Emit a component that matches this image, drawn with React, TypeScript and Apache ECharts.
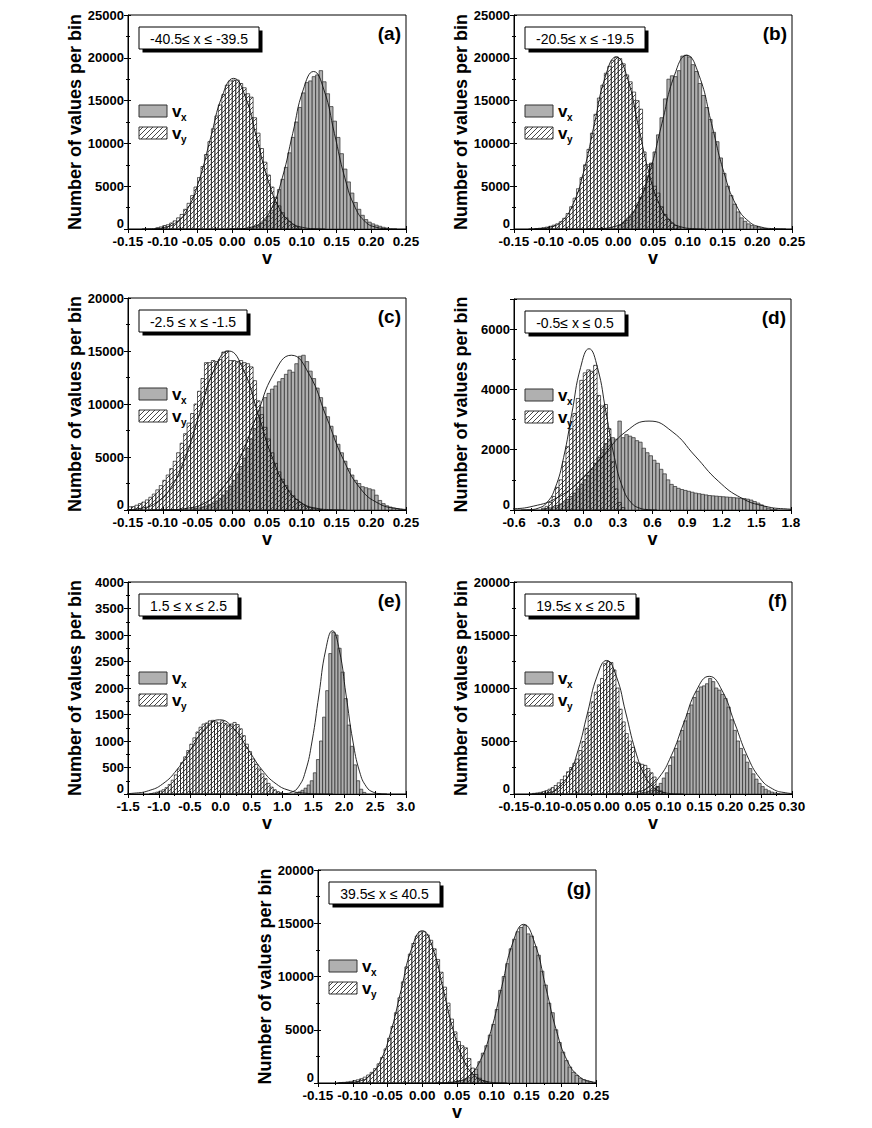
import React, { useEffect, useRef } from "react";
import * as echarts from "echarts";

/* ================= DATA ================= */

const panelLetters = ["(a)", "(b)", "(c)", "(d)", "(e)", "(f)", "(g)"];
const rangeLabels = [
  "-40.5≤ x ≤ -39.5",
  "-20.5≤ x ≤ -19.5",
  "-2.5 ≤ x ≤ -1.5",
  "-0.5≤ x ≤ 0.5",
  "1.5 ≤ x ≤ 2.5",
  "19.5≤ x ≤ 20.5",
  "39.5≤ x ≤ 40.5",
];
const yAxisTitle = "Number of values per bin";
const xAxisTitle = "v";

// ---- (a) ----
const aBin = 0.005;
const aVyStart = -0.11;
const aVy = [150, 250, 400, 500, 700, 950, 1300, 1700, 2300, 3000, 3900, 4900, 6000, 7300, 8700, 10200, 11700, 13200, 14500, 15700, 16800, 17300, 17400, 17400, 17000, 16500, 15800, 15400, 13000, 11200, 9400, 7800, 6300, 4900, 3700, 2700, 1900, 1300, 850, 500, 280, 120];
const aVxStart = 0.03;
const aVx = [250, 400, 650, 1000, 1500, 2200, 3100, 4600, 5800, 7200, 8900, 10700, 12500, 14200, 15900, 17100, 17300, 17800, 18000, 18500, 17200, 15800, 14300, 12600, 10700, 8800, 7000, 5500, 4200, 3100, 2300, 1600, 1100, 800, 600, 450, 320, 200, 120];
const aVyFit = [[-0.13, 6], [-0.1135, 39], [-0.097, 195], [-0.0805, 773], [-0.064, 2381], [-0.0475, 5715], [-0.031, 10674], [-0.0145, 15532], [0.002, 17600], [0.0185, 15532], [0.035, 10674], [0.0515, 5715], [0.068, 2381], [0.0845, 773], [0.101, 195], [0.1175, 39], [0.134, 6]];
const aVxFit = [[-0.003, 6], [0.012, 40], [0.027, 204], [0.042, 808], [0.057, 2490], [0.072, 5974], [0.087, 11160], [0.102, 16238], [0.117, 18400], [0.132, 16238], [0.147, 11160], [0.162, 5974], [0.177, 2490], [0.192, 808], [0.207, 204], [0.222, 40], [0.237, 6]];

// ---- (b) ----
const bBin = 0.005;
const bVyStart = -0.12;
const bVy = [60, 90, 150, 220, 320, 450, 600, 850, 1250, 1800, 2600, 3600, 4700, 6000, 7500, 9300, 11200, 13400, 15300, 16800, 18200, 19000, 19700, 20100, 19900, 19300, 18000, 17200, 16000, 15000, 14000, 9000, 7500, 7700, 5000, 4200, 2600, 1700, 1100, 700, 400, 200];
const bVxStart = 0.0;
const bVx = [450, 700, 1000, 1400, 2000, 2800, 3700, 4800, 6200, 7600, 9000, 11000, 13000, 15200, 17500, 17900, 17800, 18500, 20200, 20300, 20100, 19200, 18400, 17000, 15600, 14200, 12800, 11300, 10200, 8300, 6500, 5000, 3900, 2900, 2000, 1300, 900, 600, 400, 250, 150, 100, 60];
const bVyFit = [[-0.129, 7], [-0.1133, 44], [-0.0975, 223], [-0.0818, 882], [-0.066, 2720], [-0.0503, 6526], [-0.0345, 12191], [-0.0188, 17738], [-0.003, 20100], [0.0128, 17738], [0.0285, 12191], [0.0443, 6526], [0.06, 2720], [0.0758, 882], [0.0915, 223], [0.1073, 44], [0.123, 7]];
const bVxFit = [[-0.0443, 7], [-0.0265, 45], [-0.0086, 225], [0.0093, 891], [0.0271, 2747], [0.045, 6591], [0.0628, 12312], [0.0807, 17915], [0.0985, 20300], [0.1164, 17915], [0.1342, 12312], [0.1521, 6591], [0.1699, 2747], [0.1878, 891], [0.2056, 225], [0.2235, 45], [0.2413, 7]];

// ---- (c) ----
const cBin = 0.005;
const cVyStart = -0.15;
const cVy = [300, 320, 450, 600, 750, 950, 1200, 1500, 1900, 2300, 2800, 3300, 3900, 4600, 5400, 6300, 7200, 8200, 9100, 10000, 11200, 12400, 13900, 13900, 14100, 14000, 14200, 14900, 15000, 14100, 14100, 14000, 14100, 13900, 13800, 13500, 12200, 10300, 9000, 7800, 6700, 5400, 4400, 3600, 2900, 2300, 1800, 1350, 1000, 700, 500, 350, 230, 150, 90, 50];
const cVxStart = -0.06;
const cVx = [100, 150, 200, 280, 380, 500, 650, 850, 1100, 1400, 1800, 2250, 2800, 3400, 4100, 4900, 5800, 6700, 7700, 8700, 9700, 10600, 11000, 11400, 11700, 12100, 12400, 12800, 13200, 13000, 13800, 14500, 14600, 14000, 13100, 12400, 11500, 10600, 9700, 8800, 7900, 7000, 6200, 5400, 4600, 3900, 3300, 2800, 2500, 2200, 2100, 2000, 1900, 1400, 900, 600, 400, 280, 180, 120, 70];
const cVyFit = [[-0.173, 5], [-0.152, 33], [-0.131, 167], [-0.11, 659], [-0.089, 2030], [-0.068, 4871], [-0.047, 9098], [-0.026, 13238], [-0.005, 15000], [0.016, 13238], [0.037, 9098], [0.058, 4871], [0.079, 2030], [0.1, 659], [0.121, 167], [0.142, 33], [0.163, 5]];
const cVxFit = [[-0.115, 5], [-0.09, 32], [-0.065, 162], [-0.04, 641], [-0.015, 1975], [0.01, 4741], [0.035, 8855], [0.06, 12885], [0.085, 14600], [0.11, 12885], [0.135, 8855], [0.16, 4741], [0.185, 1975], [0.21, 641], [0.235, 162], [0.26, 32], [0.285, 5]];

// ---- (d) ----
const dBin = 0.03;
const dVyStart = -0.36;
const dVy = [60, 120, 250, 450, 750, 1000, 1600, 2100, 2700, 3200, 3700, 4300, 4550, 4650, 4600, 4800, 3800, 3450, 3500, 2700, 1600, 700, 250, 80];
const dVxStart = -0.36;
const dVx = [30, 50, 70, 100, 150, 200, 270, 350, 450, 560, 700, 850, 1000, 1150, 1350, 1550, 1750, 2000, 2200, 2350, 2400, 2350, 2950, 2400, 2500, 2450, 2400, 2300, 2250, 2050, 1900, 1800, 1650, 1550, 1350, 1200, 1000, 850, 780, 720, 680, 650, 620, 590, 560, 540, 520, 500, 480, 470, 460, 450, 440, 430, 420, 410, 400, 390, 380, 360, 330, 280, 230, 170, 110, 60, 30, 10];
const dVyFit = [[-0.538, 2], [-0.4645, 12], [-0.391, 59], [-0.3175, 235], [-0.244, 724], [-0.1705, 1737], [-0.097, 3245], [-0.0235, 4721], [0.05, 5350], [0.1235, 4721], [0.197, 3245], [0.2705, 1737], [0.344, 724], [0.4175, 235], [0.491, 59], [0.5645, 12], [0.638, 2]];
const dVxFit = [[-1.03, 1], [-0.83, 6], [-0.63, 33], [-0.43, 130], [-0.23, 399], [-0.03, 958], [0.17, 1789], [0.37, 2603], [0.57, 2950], [0.77, 2603], [0.97, 1789], [1.17, 958], [1.37, 399], [1.57, 130], [1.77, 33], [1.97, 6], [2.17, 1]];

// ---- (e) ----
const eBin = 0.05;
const eVyStart = -1.15;
const eVy = [10, 20, 35, 55, 80, 120, 180, 260, 360, 470, 590, 700, 820, 940, 1060, 1170, 1260, 1320, 1340, 1380, 1390, 1360, 1340, 1380, 1330, 1300, 1320, 1350, 1310, 1230, 1100, 940, 800, 660, 560, 470, 380, 290, 200, 130, 80, 45, 25, 10];
const eVxStart = 1.2;
const eVx = [20, 40, 70, 110, 170, 250, 400, 650, 1000, 1450, 1950, 2650, 3050, 3000, 2750, 2300, 1800, 1300, 900, 550, 250, 90, 30];
const eVyFit = [[-1.86, 0], [-1.63, 3], [-1.4, 16], [-1.17, 61], [-0.94, 189], [-0.71, 455], [-0.48, 849], [-0.25, 1236], [-0.02, 1400], [0.21, 1236], [0.44, 849], [0.67, 455], [0.9, 189], [1.13, 61], [1.36, 16], [1.59, 3], [1.82, 0]];
const eVxFit = [[0.93, 1], [1.04, 7], [1.15, 34], [1.26, 135], [1.37, 417], [1.48, 1000], [1.59, 1868], [1.7, 2718], [1.81, 3080], [1.92, 2718], [2.03, 1868], [2.14, 1000], [2.25, 417], [2.36, 135], [2.47, 34], [2.58, 7], [2.69, 1]];

// ---- (f) ----
const fBin = 0.005;
const fVyStart = -0.12;
const fVy = [60, 100, 150, 220, 320, 450, 600, 800, 1050, 1350, 1700, 2100, 2500, 2900, 3300, 4100, 4950, 6200, 7700, 8700, 9600, 10300, 10900, 12300, 12500, 12400, 11700, 10000, 8000, 6800, 5700, 5000, 4400, 3000, 2900, 2800, 2700, 2400, 2000, 1600, 700, 300, 120];
const fVxStart = 0.05;
const fVx = [60, 100, 160, 250, 350, 500, 700, 1000, 1500, 2000, 2700, 3500, 4300, 5000, 6000, 6900, 7600, 8400, 9100, 9700, 10100, 10200, 10400, 10900, 10600, 10000, 9800, 9400, 9000, 8200, 7000, 6000, 5000, 4300, 3700, 3000, 2400, 1900, 1400, 1000, 700, 450, 300, 180, 100, 50];
const fVyFit = [[-0.124, 4], [-0.1085, 28], [-0.093, 140], [-0.0775, 553], [-0.062, 1705], [-0.0465, 4091], [-0.031, 7642], [-0.0155, 11120], [0, 12600], [0.0155, 11120], [0.031, 7642], [0.0465, 4091], [0.062, 1705], [0.0775, 553], [0.093, 140], [0.1085, 28], [0.124, 4]];
const fVxFit = [[0.002, 4], [0.0225, 24], [0.043, 123], [0.0635, 487], [0.084, 1502], [0.1045, 3604], [0.125, 6732], [0.1455, 9796], [0.166, 11100], [0.1865, 9796], [0.207, 6732], [0.2275, 3604], [0.248, 1502], [0.2685, 487], [0.289, 123], [0.3095, 24], [0.33, 4]];

// ---- (g) ----
const gBin = 0.005;
const gVyStart = -0.12;
const gVy = [40, 60, 100, 150, 220, 300, 400, 550, 750, 1000, 1350, 1800, 2400, 3200, 4200, 5300, 6600, 8000, 9500, 10900, 12100, 13100, 13800, 14200, 14200, 13900, 13400, 12600, 11600, 10400, 9000, 7500, 6000, 4800, 3900, 3500, 3300, 2300, 1400, 800, 450, 220, 100];
const gVxStart = 0.04;
const gVx = [80, 120, 170, 230, 300, 500, 800, 1300, 2000, 2800, 3500, 4500, 5500, 6900, 8700, 10000, 11200, 12600, 13500, 14200, 14600, 14800, 14000, 13800, 12800, 12000, 10500, 9200, 7500, 6600, 5000, 3800, 2900, 2100, 1500, 1000, 700, 450, 300, 180, 100];
const gVyFit = [[-0.1224, 5], [-0.1071, 31], [-0.0918, 159], [-0.0765, 628], [-0.0612, 1935], [-0.0459, 4643], [-0.0306, 8673], [-0.0153, 12620], [0, 14300], [0.0153, 12620], [0.0306, 8673], [0.0459, 4643], [0.0612, 1935], [0.0765, 628], [0.0918, 159], [0.1071, 31], [0.1224, 5]];
const gVxFit = [[0.0196, 5], [0.0354, 33], [0.0512, 165], [0.067, 654], [0.0828, 2016], [0.0986, 4838], [0.1144, 9037], [0.1302, 13149], [0.146, 14900], [0.1618, 13149], [0.1776, 9037], [0.1934, 4838], [0.2092, 2016], [0.225, 654], [0.2408, 165], [0.2566, 33], [0.2724, 5]];

// axis extents per panel
const xMins = [-0.15, -0.15, -0.15, -0.6, -1.5, -0.15, -0.15];
const xMaxs = [0.25, 0.25, 0.25, 1.8, 3.0, 0.3, 0.25];
const xSteps = [0.05, 0.05, 0.05, 0.3, 0.5, 0.05, 0.05];
const xDecimals = [2, 2, 2, 1, 1, 2, 2];
const yMaxs = [25000, 25000, 20000, 7000, 4000, 20000, 20000];
const ySteps = [5000, 5000, 5000, 2000, 500, 5000, 5000];

/* ================= LAYOUT / STYLE ================= */

const FONT = '"Liberation Sans", Arial, Helvetica, sans-serif';
const layouts = [
  { left: 128, top: 15, width: 278, height: 214 },
  { left: 514, top: 15, width: 278, height: 214 },
  { left: 128, top: 298, width: 278, height: 212 },
  { left: 514, top: 299, width: 277, height: 211 },
  { left: 128, top: 582, width: 278, height: 212 },
  { left: 514, top: 582, width: 278, height: 212 },
  { left: 318, top: 870, width: 278, height: 213 },
];

const panelData = [
  { bin: aBin, vyStart: aVyStart, vy: aVy, vxStart: aVxStart, vx: aVx, vyFit: aVyFit, vxFit: aVxFit },
  { bin: bBin, vyStart: bVyStart, vy: bVy, vxStart: bVxStart, vx: bVx, vyFit: bVyFit, vxFit: bVxFit },
  { bin: cBin, vyStart: cVyStart, vy: cVy, vxStart: cVxStart, vx: cVx, vyFit: cVyFit, vxFit: cVxFit },
  { bin: dBin, vyStart: dVyStart, vy: dVy, vxStart: dVxStart, vx: dVx, vyFit: dVyFit, vxFit: dVxFit },
  { bin: eBin, vyStart: eVyStart, vy: eVy, vxStart: eVxStart, vx: eVx, vyFit: eVyFit, vxFit: eVxFit },
  { bin: fBin, vyStart: fVyStart, vy: fVy, vxStart: fVxStart, vx: fVx, vyFit: fVyFit, vxFit: fVxFit },
  { bin: gBin, vyStart: gVyStart, vy: gVy, vxStart: gVxStart, vx: gVx, vyFit: gVyFit, vxFit: gVxFit },
];

function toBins(start: number, width: number, counts: number[]) {
  return counts.map((c, i) => {
    const x0 = +(start + i * width).toFixed(6);
    return [x0, +(x0 + width).toFixed(6), c];
  });
}

function makeHatchCanvas(): HTMLCanvasElement {
  const s = 5;
  const c = document.createElement("canvas");
  c.width = s;
  c.height = s;
  const ctx = c.getContext("2d")!;
  ctx.strokeStyle = "#333";
  ctx.lineWidth = 0.9;
  ctx.beginPath();
  ctx.moveTo(-1, s + 1);
  ctx.lineTo(s + 1, -1);
  ctx.moveTo(-1, 1);
  ctx.lineTo(1, -1);
  ctx.moveTo(s - 1, s + 1);
  ctx.lineTo(s + 1, s - 1);
  ctx.stroke();
  return c;
}

function measure(text: string, font: string) {
  const c = document.createElement("canvas");
  const ctx = c.getContext("2d")!;
  ctx.font = font;
  return ctx.measureText(text).width;
}

function textStyle(text: string, size: number, weight: string, align: string, valign: string) {
  return {
    text,
    fill: "#000",
    fontSize: size,
    fontWeight: weight,
    fontFamily: FONT,
    font: `${weight} ${size}px ${FONT}`,
    textAlign: align,
    align: align,
    textVerticalAlign: valign,
    verticalAlign: valign,
  };
}

export default function App() {
  const ref = useRef<HTMLDivElement>(null);

  useEffect(() => {
    const el = ref.current!;
    const chart = echarts.init(el, null, { renderer: "svg", width: 872, height: 1128 });
    const hatch = { image: makeHatchCanvas(), repeat: "repeat", imageWidth: 5, imageHeight: 5 };

    const makeRender = (fill: any, stroke: string) => (params: any, api: any) => {
      const x0 = api.value(0);
      const x1 = api.value(1);
      const y = api.value(2);
      const a = api.coord([x0, y]);
      const b = api.coord([x1, 0]);
      return {
        type: "rect",
        shape: { x: a[0], y: a[1], width: b[0] - a[0], height: b[1] - a[1] },
        style: { fill, stroke, lineWidth: 0.7 },
      };
    };

    const grids: any[] = [];
    const xAxes: any[] = [];
    const yAxes: any[] = [];
    const series: any[] = [];
    const graphics: any[] = [];

    layouts.forEach((L, i) => {
      const d = panelData[i];
      grids.push({
        left: L.left, top: L.top, width: L.width, height: L.height,
        show: true, borderColor: "#000", borderWidth: 1, backgroundColor: "transparent",
        containLabel: false, outerBoundsMode: "none",
      });
      const dec = xDecimals[i];
      const xFmt = (v: number) => (Math.abs(v) < 1e-9 ? 0 : v).toFixed(dec);
      const baseX = {
        type: "value", gridIndex: i, position: "bottom",
        min: xMins[i], max: xMaxs[i], interval: xSteps[i],
        splitLine: { show: false }, minorSplitLine: { show: false },
      };
      xAxes.push({
        ...baseX,
        name: xAxisTitle, nameLocation: "middle", nameGap: 20, nameMoveOverlap: false,
        nameTextStyle: { fontFamily: FONT, fontSize: 18, fontWeight: "bold", color: "#000" },
        axisLine: { show: true, onZero: false, lineStyle: { color: "#000", width: 1 } },
        axisTick: { show: true, inside: false, length: 4, lineStyle: { color: "#000", width: 1 } },
        minorTick: { show: true, splitNumber: 2, length: 2, lineStyle: { color: "#000", width: 1 } },
        axisLabel: {
          show: true, margin: 5, color: "#000", fontFamily: FONT, fontSize: 13.5, fontWeight: "bold",
          showMinLabel: true, showMaxLabel: true, hideOverlap: false, formatter: xFmt,
        },
      });
      xAxes.push({
        ...baseX,
        axisLine: { show: false, onZero: false },
        axisTick: { show: true, inside: true, length: 3, lineStyle: { color: "#000", width: 1 } },
        minorTick: { show: true, splitNumber: 2, length: 2, lineStyle: { color: "#000", width: 1 } },
        axisLabel: { show: false },
      });
      const baseY = {
        type: "value", gridIndex: i, position: "left",
        min: 0, max: yMaxs[i], interval: ySteps[i],
        splitLine: { show: false }, minorSplitLine: { show: false },
      };
      yAxes.push({
        ...baseY,
        name: yAxisTitle, nameLocation: "middle", nameGap: 44, nameRotate: 90, nameMoveOverlap: false,
        nameTextStyle: { fontFamily: FONT, fontSize: 18, fontWeight: "bold", color: "#000" },
        axisLine: { show: true, onZero: false, lineStyle: { color: "#000", width: 1 } },
        axisTick: { show: true, inside: false, length: 4, lineStyle: { color: "#000", width: 1 } },
        minorTick: { show: true, splitNumber: 2, length: 2, lineStyle: { color: "#000", width: 1 } },
        axisLabel: {
          show: true, margin: 4, color: "#000", fontFamily: FONT, fontSize: 13, fontWeight: "bold",
          showMinLabel: true, showMaxLabel: yMaxs[i] % ySteps[i] === 0, hideOverlap: false,
          formatter: (v: number) => (Math.round(v) === 0 ? "{z|0}" : String(Math.round(v))),
          rich: {
            z: {
              fontFamily: FONT, fontSize: 13, fontWeight: "bold", color: "#000",
              padding: [0, 0, 12, 0],
            },
          },
        },
      });
      yAxes.push({
        ...baseY,
        axisLine: { show: false, onZero: false },
        axisTick: { show: true, inside: true, length: 3, lineStyle: { color: "#000", width: 1 } },
        minorTick: { show: true, splitNumber: 2, length: 2, lineStyle: { color: "#000", width: 1 } },
        axisLabel: { show: false },
      });

      const xi = 2 * i;
      series.push({
        type: "custom", xAxisIndex: xi, yAxisIndex: xi, clip: true, z: 2, silent: true,
        encode: { x: [0, 1], y: 2 },
        data: toBins(d.vxStart, d.bin, d.vx),
        renderItem: makeRender("#b0b0b0", "#2a2a2a"),
      });
      series.push({
        type: "custom", xAxisIndex: xi, yAxisIndex: xi, clip: true, z: 3, silent: true,
        encode: { x: [0, 1], y: 2 },
        data: toBins(d.vyStart, d.bin, d.vy),
        renderItem: makeRender(hatch, "#1a1a1a"),
      });
      [d.vyFit, d.vxFit].forEach((fit) => {
        series.push({
          type: "line", xAxisIndex: xi, yAxisIndex: xi, data: fit, symbol: "none", showSymbol: false,
          smooth: true, clip: true, z: 5, silent: true,
          lineStyle: { color: "#111", width: 0.9 },
        });
      });

      // caption box with shadow
      const boxFont = `14px ${FONT}`;
      const bw = Math.round(measure(rangeLabels[i], boxFont) + 22);
      const bx = L.left + 11;
      const by = L.top + 12;
      const bh = 22;
      graphics.push({ type: "rect", shape: { x: bx + 3.5, y: by + 3.5, width: bw, height: bh }, style: { fill: "#000" }, z: 20 });
      graphics.push({ type: "rect", shape: { x: bx, y: by, width: bw, height: bh }, style: { fill: "#fff", stroke: "#000", lineWidth: 1 }, z: 21 });
      graphics.push({ type: "text", x: bx + bw / 2, y: by + bh / 2 + 0.5, style: textStyle(rangeLabels[i], 14, "normal", "center", "middle"), z: 22 });
      // panel letter
      graphics.push({ type: "text", x: L.left + L.width - 5, y: L.top + 18, style: textStyle(panelLetters[i], 19, "bold", "right", "middle"), z: 22 });
      // legend
      const lx = L.left + 11;
      const ly1 = L.top + 90;
      const ly2 = L.top + 112;
      graphics.push({ type: "rect", shape: { x: lx, y: ly1, width: 28, height: 12 }, style: { fill: "#b0b0b0", stroke: "#333", lineWidth: 1 }, z: 20 });
      graphics.push({ type: "rect", shape: { x: lx, y: ly2, width: 28, height: 12 }, style: { fill: hatch, stroke: "#333", lineWidth: 1 }, z: 20 });
      graphics.push({ type: "text", x: lx + 33, y: ly1 + 6, style: textStyle("v", 17, "bold", "left", "middle"), z: 22 });
      graphics.push({ type: "text", x: lx + 42, y: ly1 + 12, style: textStyle("x", 10, "bold", "left", "middle"), z: 22 });
      graphics.push({ type: "text", x: lx + 33, y: ly2 + 6, style: textStyle("v", 17, "bold", "left", "middle"), z: 22 });
      graphics.push({ type: "text", x: lx + 42, y: ly2 + 12, style: textStyle("y", 10, "bold", "left", "middle"), z: 22 });
    });

    chart.setOption({
      animation: false,
      backgroundColor: "#fff",
      textStyle: { fontFamily: FONT },
      grid: grids,
      xAxis: xAxes,
      yAxis: yAxes,
      series,
      graphic: { elements: graphics },
    });

    return () => {
      chart.dispose();
    };
  }, []);

  return (
    <div
      ref={ref}
      style={{ position: "absolute", left: 0, top: 0, width: 872, height: 1128, background: "#fff" }}
    />
  );
}
